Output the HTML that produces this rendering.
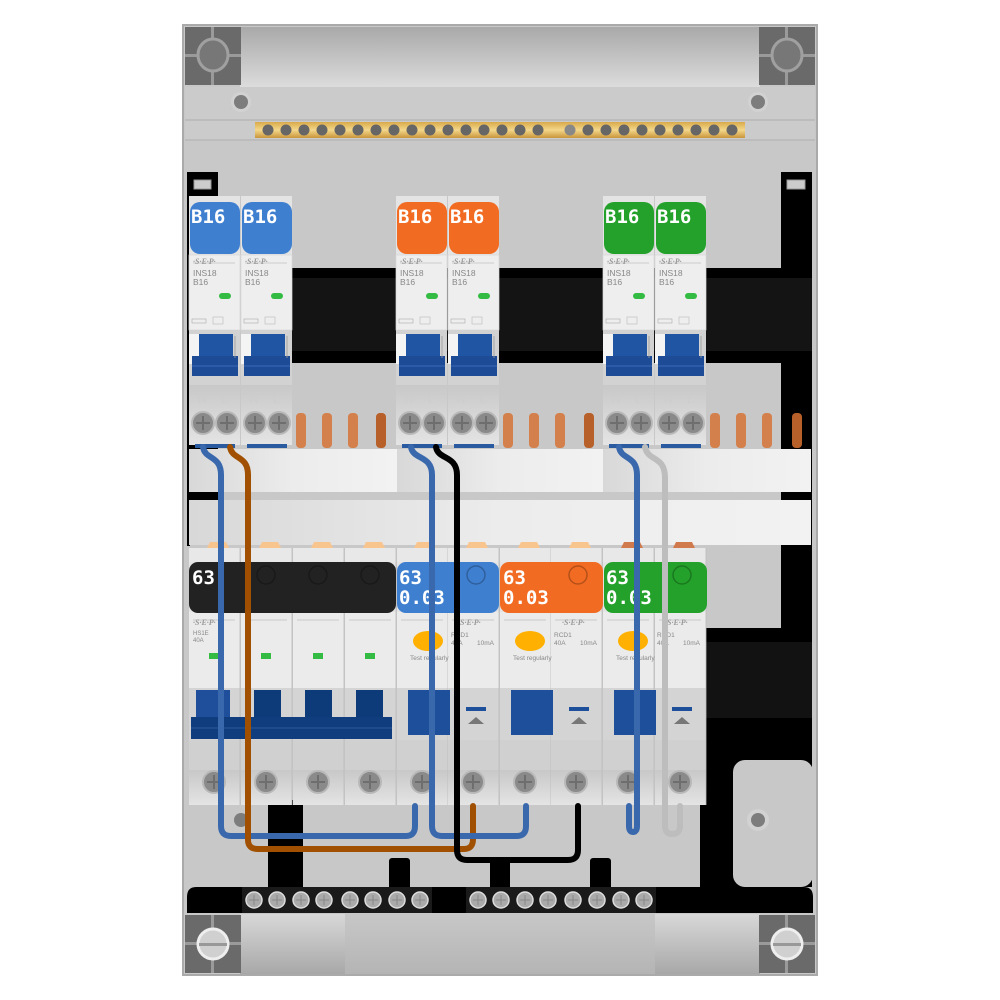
<!DOCTYPE html>
<html><head><meta charset="utf-8"><style>
html,body{margin:0;padding:0;background:#fff;width:1000px;height:1000px;overflow:hidden}
svg{display:block}
.lbl{font-family:"DejaVu Sans Mono","Liberation Mono",monospace;font-weight:bold;fill:#fff}
.sm{font-family:"Liberation Sans",sans-serif;fill:#888}
.sep{font-family:"Liberation Serif",serif;font-style:italic;font-weight:bold;fill:#999;font-size:8px}
</style></head><body>
<svg width="1000" height="1000" viewBox="0 0 1000 1000" xmlns="http://www.w3.org/2000/svg">
<defs>
<linearGradient id="topband" x1="0" y1="0" x2="0" y2="1"><stop offset="0" stop-color="#a9a9a9"/><stop offset="1" stop-color="#dcdcdc"/></linearGradient>
<linearGradient id="botband" x1="0" y1="0" x2="0" y2="1"><stop offset="0" stop-color="#d8d8d8"/><stop offset="1" stop-color="#a8a8a8"/></linearGradient>
<linearGradient id="brass" x1="0" y1="0" x2="0" y2="1"><stop offset="0" stop-color="#d9a94a"/><stop offset=".5" stop-color="#f3d78a"/><stop offset="1" stop-color="#c9963a"/></linearGradient>
<linearGradient id="wbar" x1="0" y1="0" x2="1" y2="0"><stop offset="0" stop-color="#d8d8d8"/><stop offset=".5" stop-color="#ececec"/><stop offset="1" stop-color="#f2f2f2"/></linearGradient>
<linearGradient id="term" x1="0" y1="0" x2="0" y2="1"><stop offset="0" stop-color="#c8c8c8"/><stop offset="1" stop-color="#e4e4e4"/></linearGradient>
<g id="corner">
<rect x="0" y="0" width="56" height="58" fill="#6a6a6a"/>
<rect x="26" y="0" width="3" height="58" fill="#9a9a9a"/><rect x="0" y="27" width="56" height="3" fill="#9a9a9a"/>
<ellipse cx="28" cy="28" rx="15" ry="16" fill="#777" stroke="#a0a0a0" stroke-width="3"/>
</g>
<g id="screw"><circle r="11" fill="#8a8a8a" stroke="#b8b8b8" stroke-width="2"/><path d="M-7 0H7M0 -7V7" stroke="#6e6e6e" stroke-width="2"/></g>
<g id="tsc"><circle r="8" fill="#aaa" stroke="#ddd" stroke-width="1.5"/><path d="M-5 0H5M0 -5V5" stroke="#888" stroke-width="1"/></g>
<g id="tb">
<rect x="0" y="0" width="51" height="249" fill="#e4e4e4"/>
<rect x="0" y="59" width="51" height="75" fill="#eeeeee" stroke="#d6d6d6" stroke-width=".7"/>
<rect x="0" y="134" width="51" height="55" fill="#d2d2d2"/>
<rect x="0" y="138" width="10" height="30" fill="#f4f4f4"/>
<rect x="10" y="138" width="34" height="28" fill="#2055a3"/>
<rect x="3" y="160" width="46" height="20" fill="#1d4b95"/>
<line x1="3" y1="170" x2="49" y2="170" stroke="#3a6ab8" stroke-width="1"/>
<line x1="46" y1="140" x2="46" y2="162" stroke="#999" stroke-width=".8"/>
<rect x="0" y="189" width="51" height="60" fill="url(#term)"/>
<rect x="30" y="97" width="12" height="6" rx="3" fill="#33bb44"/>
<line x1="4" y1="67" x2="46" y2="67" stroke="#aaa" stroke-width=".6"/>
<rect x="3" y="123" width="14" height="4" fill="none" stroke="#aaa" stroke-width=".6"/>
<rect x="24" y="121" width="10" height="7" fill="none" stroke="#bbb" stroke-width=".6"/>
<use href="#screw" x="14" y="227"/><use href="#screw" x="38" y="227"/>
<rect x="6" y="248" width="40" height="4" fill="#2a5aa0"/>
</g>
<g id="lb">
<rect x="0" y="0" width="51" height="257" fill="#e4e4e4"/>
<rect x="0" y="0" width="51" height="14" fill="#e8e8e8"/>
<rect x="0" y="64" width="51" height="76" fill="#ebebeb"/>
<line x1="4" y1="72" x2="46" y2="72" stroke="#aaa" stroke-width=".6"/>
<rect x="0" y="140" width="51" height="52" fill="#d4d4d4"/>
<rect x="0" y="192" width="51" height="30" fill="#d0d0d0"/>
<rect x="0" y="222" width="51" height="35" fill="url(#term)"/>
<use href="#screw" x="25" y="234"/>
<line x1="51" y1="0" x2="51" y2="257" stroke="#bbb" stroke-width=".8"/>
</g>
</defs>

<!-- enclosure -->
<rect x="183" y="25" width="634" height="950" fill="#c8c8c8" stroke="#aaa" stroke-width="2"/>
<rect x="240" y="27" width="520" height="60" fill="url(#topband)"/>
<use href="#corner" x="185" y="27"/><use href="#corner" x="759" y="27"/>
<rect x="185" y="87" width="630" height="53" fill="#cbcbcb"/>
<line x1="185" y1="120" x2="815" y2="120" stroke="#b8b8b8" stroke-width="1.5"/>
<line x1="185" y1="140" x2="815" y2="140" stroke="#b8b8b8" stroke-width="1.5"/>
<circle cx="241" cy="102" r="10" fill="#d2d2d2"/><circle cx="241" cy="102" r="7" fill="#7d7d7d"/>
<circle cx="758" cy="102" r="10" fill="#d2d2d2"/><circle cx="758" cy="102" r="7" fill="#7d7d7d"/>
<rect x="255" y="122" width="490" height="16" fill="url(#brass)"/>
<g fill="#666">
<circle cx="268" cy="130" r="5.5"/><circle cx="286" cy="130" r="5.5"/><circle cx="304" cy="130" r="5.5"/><circle cx="322" cy="130" r="5.5"/><circle cx="340" cy="130" r="5.5"/><circle cx="358" cy="130" r="5.5"/><circle cx="376" cy="130" r="5.5"/><circle cx="394" cy="130" r="5.5"/><circle cx="412" cy="130" r="5.5"/><circle cx="430" cy="130" r="5.5"/><circle cx="448" cy="130" r="5.5"/><circle cx="466" cy="130" r="5.5"/><circle cx="484" cy="130" r="5.5"/><circle cx="502" cy="130" r="5.5"/><circle cx="520" cy="130" r="5.5"/><circle cx="538" cy="130" r="5.5"/>
<circle cx="570" cy="130" r="5.5" fill="#888"/>
<circle cx="588" cy="130" r="5.5"/><circle cx="606" cy="130" r="5.5"/><circle cx="624" cy="130" r="5.5"/><circle cx="642" cy="130" r="5.5"/><circle cx="660" cy="130" r="5.5"/><circle cx="678" cy="130" r="5.5"/><circle cx="696" cy="130" r="5.5"/><circle cx="714" cy="130" r="5.5"/><circle cx="732" cy="130" r="5.5"/>
</g>

<!-- black rails / strips -->
<rect x="187" y="172" width="31" height="24" fill="#000"/><rect x="194" y="180" width="17" height="9" fill="#ccc" stroke="#999"/>
<rect x="781" y="172" width="31" height="24" fill="#000"/><rect x="787" y="180" width="18" height="9" fill="#ccc" stroke="#999"/>
<rect x="187" y="196" width="3" height="350" fill="#000"/>
<rect x="781" y="196" width="31" height="570" fill="#000"/>
<rect x="290" y="268" width="522" height="95" fill="#000"/>
<rect x="290" y="278" width="522" height="73" fill="#141414"/>
<rect x="187" y="440" width="31" height="10" fill="#000"/>
<rect x="187" y="492" width="31" height="10" fill="#000"/>
<rect x="700" y="628" width="112" height="132" fill="#000"/>
<rect x="700" y="642" width="112" height="76" fill="#121212"/>
<path d="M700 750 H812 V887 H700 Z" fill="#000"/>
<rect x="733" y="760" width="80" height="127" rx="12" fill="#c8c8c8"/>
<circle cx="758" cy="820" r="11" fill="#d2d2d2"/><circle cx="758" cy="820" r="7" fill="#7d7d7d"/>
<circle cx="241" cy="820" r="7" fill="#7d7d7d"/>
<rect x="268" y="800" width="35" height="90" fill="#000"/>
<rect x="389" y="858" width="21" height="32" rx="3" fill="#000"/>
<rect x="490" y="858" width="20" height="32" rx="3" fill="#000"/>
<rect x="590" y="858" width="21" height="32" rx="3" fill="#000"/>
<path d="M196 887 H804 Q813 887 813 897 V913 H187 V897 Q187 887 196 887 Z" fill="#000"/>
<g>
<rect x="242" y="887" width="190" height="26" fill="#1a1a1a"/><rect x="466" y="887" width="190" height="26" fill="#1a1a1a"/>
<use href="#tsc" x="254" y="900"/><use href="#tsc" x="277" y="900"/><use href="#tsc" x="301" y="900"/><use href="#tsc" x="324" y="900"/><use href="#tsc" x="350" y="900"/><use href="#tsc" x="373" y="900"/><use href="#tsc" x="397" y="900"/><use href="#tsc" x="420" y="900"/>
<use href="#tsc" x="478" y="900"/><use href="#tsc" x="501" y="900"/><use href="#tsc" x="525" y="900"/><use href="#tsc" x="548" y="900"/><use href="#tsc" x="573" y="900"/><use href="#tsc" x="597" y="900"/><use href="#tsc" x="621" y="900"/><use href="#tsc" x="644" y="900"/>
</g>
<rect x="240" y="914" width="520" height="60" fill="url(#botband)"/>
<rect x="345" y="914" width="310" height="60" fill="#bdbdbd" opacity=".6"/>
<g transform="translate(185,915)"><rect width="56" height="58" fill="#6a6a6a"/><rect x="26" width="3" height="58" fill="#9a9a9a"/><rect y="27" width="56" height="3" fill="#9a9a9a"/><circle cx="28" cy="29" r="15" fill="#d0d0d0" stroke="#eee" stroke-width="3"/><rect x="14" y="28" width="28" height="3" fill="#999"/></g>
<g transform="translate(759,915)"><rect width="56" height="58" fill="#6a6a6a"/><rect x="26" width="3" height="58" fill="#9a9a9a"/><rect y="27" width="56" height="3" fill="#9a9a9a"/><circle cx="28" cy="29" r="15" fill="#d0d0d0" stroke="#eee" stroke-width="3"/><rect x="14" y="28" width="28" height="3" fill="#999"/></g>

<!-- top breakers -->
<use href="#tb" x="189" y="196"/><use href="#tb" x="241" y="196"/>
<use href="#tb" x="396" y="196"/><use href="#tb" x="448" y="196"/>
<use href="#tb" x="603" y="196"/><use href="#tb" x="655" y="196"/>
<rect x="190" y="202" width="50" height="52" rx="10" fill="#3f7fd0"/><rect x="242" y="202" width="50" height="52" rx="10" fill="#3f7fd0"/>
<rect x="397" y="202" width="50" height="52" rx="10" fill="#f26b22"/><rect x="449" y="202" width="50" height="52" rx="10" fill="#f26b22"/>
<rect x="604" y="202" width="50" height="52" rx="10" fill="#23a12a"/><rect x="656" y="202" width="50" height="52" rx="10" fill="#23a12a"/>
<g class="lbl" font-size="19">
<text x="191" y="223">B16</text><text x="243" y="223">B16</text>
<text x="398" y="223">B16</text><text x="450" y="223">B16</text>
<text x="605" y="223">B16</text><text x="657" y="223">B16</text>
</g>
<g class="sep"><text x="193" y="264">·S·E·P·</text><text x="245" y="264">·S·E·P·</text><text x="400" y="264">·S·E·P·</text><text x="452" y="264">·S·E·P·</text><text x="607" y="264">·S·E·P·</text><text x="659" y="264">·S·E·P·</text></g>
<g class="sm" font-size="8.5">
<text x="193" y="276">INS18</text><text x="193" y="285">B16</text><text x="245" y="276">INS18</text><text x="245" y="285">B16</text>
<text x="400" y="276">INS18</text><text x="400" y="285">B16</text><text x="452" y="276">INS18</text><text x="452" y="285">B16</text>
<text x="607" y="276">INS18</text><text x="607" y="285">B16</text><text x="659" y="276">INS18</text><text x="659" y="285">B16</text>
</g>
<g class="sm" font-size="12" fill="#cfcfcf" style="fill:#cdcdcd">
<text x="198" y="403">N</text><text x="221" y="403">L</text><text x="250" y="403">N</text><text x="273" y="403">L</text>
<text x="405" y="403">N</text><text x="428" y="403">L</text><text x="457" y="403">N</text><text x="480" y="403">L</text>
<text x="612" y="403">N</text><text x="635" y="403">L</text><text x="664" y="403">N</text><text x="687" y="403">L</text>
</g>
<!-- copper pins -->
<g fill="#d4804c">
<rect x="296" y="413" width="10" height="35" rx="4"/><rect x="322" y="413" width="10" height="35" rx="4"/><rect x="348" y="413" width="10" height="35" rx="4"/>
<rect x="503" y="413" width="10" height="35" rx="4"/><rect x="529" y="413" width="10" height="35" rx="4"/><rect x="555" y="413" width="10" height="35" rx="4"/>
<rect x="710" y="413" width="10" height="35" rx="4"/><rect x="736" y="413" width="10" height="35" rx="4"/><rect x="762" y="413" width="10" height="35" rx="4"/>
</g>
<g fill="#b8602a"><rect x="376" y="413" width="10" height="35" rx="4"/><rect x="584" y="413" width="10" height="35" rx="4"/><rect x="792" y="413" width="10" height="35" rx="4"/></g>
<!-- white bars -->
<rect x="189" y="449" width="208" height="43" fill="url(#wbar)"/>
<rect x="397" y="449" width="206" height="43" fill="url(#wbar)"/>
<rect x="603" y="449" width="208" height="43" fill="url(#wbar)"/>
<rect x="189" y="500" width="622" height="45" fill="url(#wbar)"/>

<!-- lower breakers -->
<g fill="#f9c58f">
<path d="M205 552 L210 542 H226 L231 552Z"/><path d="M257 552 L262 542 H278 L283 552Z"/><path d="M309 552 L314 542 H330 L335 552Z"/><path d="M361 552 L366 542 H382 L387 552Z"/>
<path d="M412 552 L417 542 H433 L438 552Z"/><path d="M464 552 L469 542 H485 L490 552Z"/><path d="M516 552 L521 542 H537 L542 552Z"/><path d="M567 552 L572 542 H588 L593 552Z"/>
</g>
<g fill="#d07a4e"><path d="M619 552 L624 542 H640 L645 552Z"/><path d="M671 552 L676 542 H692 L697 552Z"/></g>
<use href="#lb" x="189" y="548"/><use href="#lb" x="241" y="548"/><use href="#lb" x="293" y="548"/><use href="#lb" x="345" y="548"/>
<use href="#lb" x="397" y="548"/><use href="#lb" x="448" y="548"/><use href="#lb" x="500" y="548"/><use href="#lb" x="551" y="548"/><use href="#lb" x="603" y="548"/><use href="#lb" x="655" y="548"/>
<rect x="189" y="562" width="207" height="51" rx="9" fill="#222"/>
<rect x="397" y="562" width="102" height="51" rx="9" fill="#3f7fd0"/>
<rect x="500" y="562" width="103" height="51" rx="9" fill="#f26b22"/>
<rect x="604" y="562" width="103" height="51" rx="9" fill="#23a12a"/>
<g fill="none" stroke="#000" stroke-opacity=".25" stroke-width="1.5"><circle cx="266" cy="575" r="9"/><circle cx="318" cy="575" r="9"/><circle cx="370" cy="575" r="9"/><circle cx="476" cy="575" r="9"/><circle cx="578" cy="575" r="9"/><circle cx="682" cy="575" r="9"/></g>
<g class="lbl" font-size="19">
<text x="192" y="584">63</text>
<text x="399" y="584">63</text><text x="399" y="604">0.03</text>
<text x="503" y="584">63</text><text x="503" y="604">0.03</text>
<text x="606" y="584">63</text><text x="606" y="604">0.03</text>
</g>
<!-- 4 pole body details -->
<g fill="#33bb44"><rect x="209" y="653" width="10" height="6"/><rect x="261" y="653" width="10" height="6"/><rect x="313" y="653" width="10" height="6"/><rect x="365" y="653" width="10" height="6"/></g>
<g class="sep"><text x="193" y="625">·S·E·P·</text><text x="458" y="625">·S·E·P·</text><text x="562" y="625">·S·E·P·</text><text x="665" y="625">·S·E·P·</text></g>
<g class="sm" font-size="6"><text x="193" y="635">HS1E</text><text x="193" y="642">40A</text></g>
<rect x="196" y="690" width="34" height="30" fill="#1f4f9a"/>
<rect x="254" y="690" width="27" height="30" fill="#0d3a78"/><rect x="305" y="690" width="27" height="30" fill="#0d3a78"/><rect x="356" y="690" width="27" height="30" fill="#0d3a78"/>
<rect x="191" y="717" width="201" height="22" fill="#0f3d7d"/>
<line x1="191" y1="728" x2="392" y2="728" stroke="#2a5aa0"/>
<!-- RCDs -->
<g fill="#ffb000"><ellipse cx="428" cy="641" rx="15" ry="10"/><ellipse cx="530" cy="641" rx="15" ry="10"/><ellipse cx="633" cy="641" rx="15" ry="10"/></g>
<g class="sm" font-size="6.5"><text x="410" y="660">Test regularly</text><text x="513" y="660">Test regularly</text><text x="616" y="660">Test regularly</text>
<text x="451" y="637">RCD1</text><text x="554" y="637">RCD1</text><text x="657" y="637">RCD1</text>
<text x="477" y="645">10mA</text><text x="580" y="645">10mA</text><text x="683" y="645">10mA</text>
<text x="451" y="645">40A</text><text x="554" y="645">40A</text><text x="657" y="645">40A</text></g>
<g fill="#1e4f9a"><rect x="408" y="690" width="42" height="45"/><rect x="511" y="690" width="42" height="45"/><rect x="614" y="690" width="42" height="45"/></g>
<g fill="#1e4f9a"><rect x="466" y="707" width="20" height="4"/><rect x="569" y="707" width="20" height="4"/><rect x="672" y="707" width="20" height="4"/></g>
<g fill="#777"><path d="M468 724 L476 717 L484 724Z"/><path d="M571 724 L579 717 L587 724Z"/><path d="M674 724 L682 717 L690 724Z"/></g>

<!-- wires -->
<g fill="none" stroke-width="6" stroke-linecap="round" stroke-linejoin="round">
<path d="M203 447 C205 460 221 455 221 475 V826 Q221 836 231 836 H406 Q415 836 415 826 V806" stroke="#3a68ad"/>
<path d="M230 447 C232 460 248 455 248 475 V840 Q248 849 258 849 H464 Q473 849 473 839 V806" stroke="#a05000"/>
<path d="M411 447 C413 460 432 455 432 475 V826 Q432 836 442 836 H517 Q526 836 526 826 V806" stroke="#3a68ad"/>
<path d="M436 447 C438 460 457 455 457 475 V850 Q457 860 467 860 H568 Q578 860 578 850 V806" stroke="#000"/>
<path d="M619 447 C621 460 637 455 637 475 V826 Q637 832 633 832 Q629 832 629 826 V806" stroke="#3a68ad"/>
<path d="M645 447 C648 462 665 455 665 478 V826 Q665 834 672 834 Q680 834 680 826 V806" stroke="#bdbdbd"/>
</g>
</svg>
</body></html>
